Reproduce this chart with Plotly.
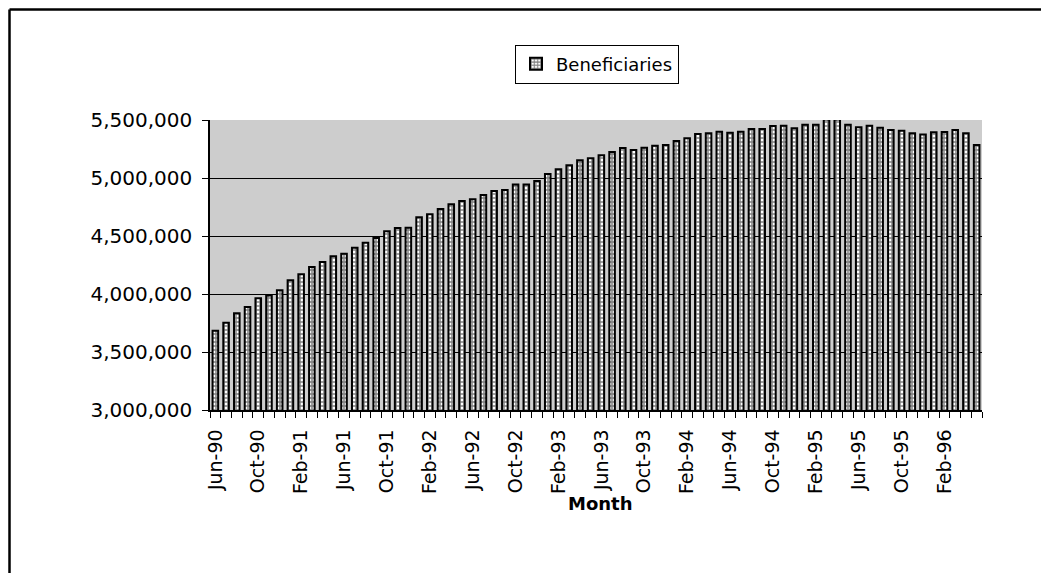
import plotly.graph_objects as go

months = ["Jun", "Jul", "Aug", "Sep", "Oct", "Nov", "Dec", "Jan", "Feb", "Mar", "Apr", "May"]
start_year = 90
n_bars = 72
categories = []
for i in range(n_bars):
    m = months[i % 12]
    yr = start_year + (i + 5) // 12
    categories.append(f"{m}-{yr:02d}")

beneficiaries = [
    3684000, 3753000, 3833000, 3888000, 3963000, 3986000, 4032000, 4118000,
    4170000, 4233000, 4276000, 4325000, 4348000, 4399000, 4442000, 4483000,
    4540000, 4569000, 4572000, 4661000, 4687000, 4733000, 4773000, 4802000,
    4816000, 4853000, 4888000, 4897000, 4945000, 4945000, 4974000, 5034000,
    5075000, 5109000, 5152000, 5170000, 5196000, 5224000, 5259000, 5241000,
    5261000, 5279000, 5285000, 5319000, 5342000, 5379000, 5385000, 5399000,
    5391000, 5399000, 5422000, 5422000, 5448000, 5450000, 5428000, 5460000,
    5460000, 5505000, 5505000, 5460000, 5437000, 5451000, 5434000, 5414000,
    5408000, 5385000, 5376000, 5394000, 5397000, 5414000, 5385000, 5285000,
]

y_ticks = [3000000, 3500000, 4000000, 4500000, 5000000, 5500000]
label_step = 4

x_idx = list(range(len(categories)))
tick_idx = x_idx[::label_step]
tick_text = [categories[i] for i in tick_idx]

FONT = "DejaVu Sans"

fig = go.Figure()
fig.add_trace(go.Bar(
    x=x_idx, y=beneficiaries, name="Beneficiaries",
    marker=dict(color="white", line=dict(color="black", width=2),
                pattern=dict(shape="+", fgcolor="black", bgcolor="white", size=4, solidity=0.6)),
    customdata=categories,
    hovertemplate="%{customdata}: %{y:,}<extra></extra>",
))

OFF = 8  # page body margin
L, R, T, B = 210 - OFF, 67, 120 - OFF, 163
W, H = 1049 - OFF, 573 - OFF
pw, ph = W - L - R, H - T - B


def px_x(x):
    return (x - OFF - L) / pw


def px_y(y):
    return (H - B - (y - OFF)) / ph


fig.update_layout(
    width=W, height=H,
    margin=dict(l=L, r=R, t=T, b=B),
    paper_bgcolor="white", plot_bgcolor="#cdcdcd",
    bargap=0.48,
    showlegend=True,
    legend=dict(x=px_x(597), y=px_y(64), xanchor="center", yanchor="middle",
                bordercolor="black", borderwidth=1, bgcolor="white",
                font=dict(family=FONT, size=18, color="black"),
                itemwidth=30),
    font=dict(family=FONT, color="black"),
)

fig.update_xaxes(
    range=[-0.5, len(categories) - 0.5],
    tickmode="array", tickvals=tick_idx, ticktext=tick_text, tickangle=-90,
    ticks="outside", ticklen=6, tickcolor="rgba(0,0,0,0)",
    minor=dict(ticks="outside", tickmode="linear", tick0=-0.5, dtick=1, ticklen=6,
               tickcolor="black", tickwidth=1, showgrid=False),
    showline=True, linecolor="black", linewidth=1.5,
    showgrid=False, zeroline=False,
    tickfont=dict(family=FONT, size=19, color="black"),
    ticklabelstandoff=4,
)
fig.update_yaxes(
    range=[y_ticks[0], y_ticks[-1]],
    tickmode="array", tickvals=y_ticks, tickformat=",",
    ticks="outside", ticklen=6, tickcolor="black",
    showline=True, linecolor="black", linewidth=1.5,
    showgrid=True, gridcolor="black", gridwidth=1, zeroline=False,
    tickfont=dict(family=FONT, size=20, color="black"),
    ticklabelstandoff=6,
)

fig.add_annotation(text="<b>Month</b>", xref="paper", yref="paper",
                   x=px_x(600), y=px_y(503), xanchor="center", yanchor="middle",
                   showarrow=False, font=dict(family=FONT, size=18, color="black"))

# outer chart frame (left and top edges visible)
fig.add_shape(type="line", xref="paper", yref="paper",
              x0=px_x(9.5), x1=px_x(9.5), y0=px_y(9.5), y1=px_y(600),
              line=dict(color="black", width=2.5))
fig.add_shape(type="line", xref="paper", yref="paper",
              x0=px_x(9.5), x1=px_x(1100), y0=px_y(9.5), y1=px_y(9.5),
              line=dict(color="black", width=2.5))

fig.write_html("out.html")
